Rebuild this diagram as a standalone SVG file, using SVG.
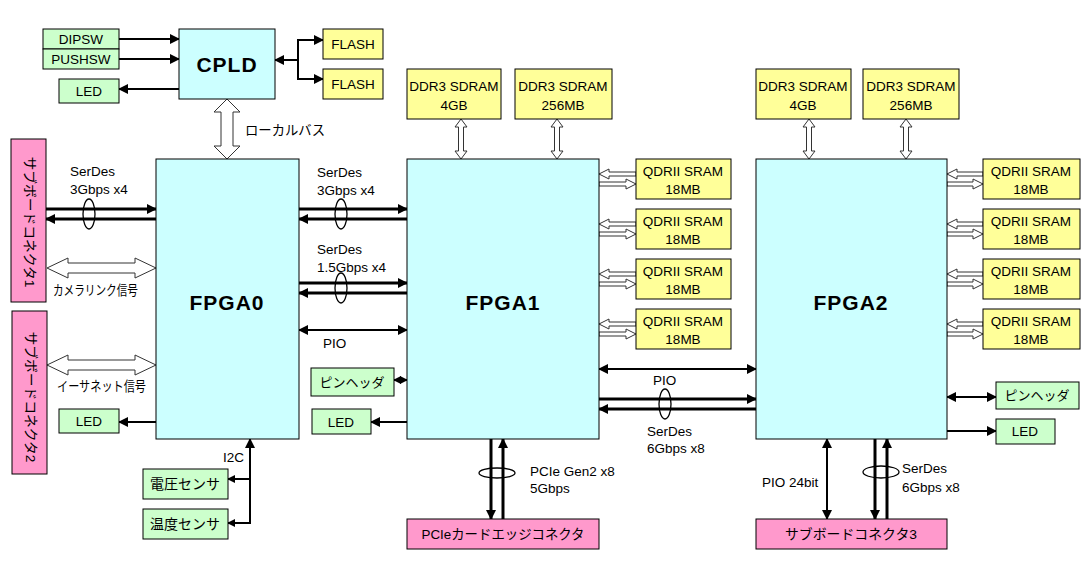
<svg xmlns="http://www.w3.org/2000/svg" width="1092" height="568" viewBox="0 0 1092 568">
<defs>
<marker id="ah" markerUnits="userSpaceOnUse" markerWidth="10" markerHeight="10" refX="9" refY="5" orient="auto-start-reverse"><path d="M0,0 L10,5 L0,10 z" fill="#000"/></marker>
<marker id="ahs" markerUnits="userSpaceOnUse" markerWidth="8" markerHeight="8" refX="7" refY="4" orient="auto-start-reverse"><path d="M0,0 L8,4 L0,8 z" fill="#000"/></marker>
</defs>
<style>
text{font-family:"Liberation Sans","Noto Sans CJK JP",sans-serif;font-size:13.5px;fill:#000}
.c{text-anchor:middle}
.big{font-size:21px;font-weight:bold;letter-spacing:1px}
.jp{font-size:13.5px}
.box{stroke:#000;stroke-width:1}
.fpga{fill:#ccffff}
.grn{fill:#ccffcc}
.yel{fill:#ffff99}
.pnk{fill:#ff99cc}
.t{stroke:#000;stroke-width:3;fill:none}
.n{stroke:#000;stroke-width:2;fill:none}
.hol{fill:#fff;stroke:#333;stroke-width:1}
.ell{fill:none;stroke:#000;stroke-width:1.3}
</style>
<rect width="1092" height="568" fill="#fff"/>

<g id="connectors">
<line class="n" x1="119" y1="39" x2="179" y2="39" marker-end="url(#ah)"/>
<line class="n" x1="119" y1="59" x2="179" y2="59" marker-end="url(#ah)"/>
<line class="n" x1="179" y1="89" x2="119" y2="89" marker-end="url(#ah)"/>
<line class="n" x1="298" y1="60" x2="275" y2="60" marker-end="url(#ah)"/>
<line class="n" x1="298" y1="39" x2="298" y2="80"/>
<line class="n" x1="297" y1="40" x2="323" y2="40" marker-end="url(#ah)"/>
<line class="n" x1="297" y1="79" x2="323" y2="79" marker-end="url(#ah)"/>
<polygon class="hol" points="227,99 240,112 233,112 233,146 240,146 227,159 214,146 221,146 221,112 214,112"/>

<line class="t" x1="46" y1="209" x2="156" y2="209" marker-end="url(#ah)"/>
<line class="t" x1="156" y1="219" x2="46" y2="219" marker-end="url(#ah)"/>
<ellipse class="ell" cx="89" cy="214" rx="6" ry="15"/>
<polygon class="hol" points="47,268 68,258 68,263 135,263 135,258 156,268 135,278 135,273 68,273 68,278"/>
<polygon class="hol" points="47,365 68,355 68,360 135,360 135,355 156,365 135,375 135,370 68,370 68,375"/>
<line class="n" x1="156" y1="422" x2="119" y2="422" marker-end="url(#ah)"/>
<line class="n" x1="250" y1="524" x2="250" y2="439" marker-end="url(#ah)"/>
<line class="n" x1="251" y1="479" x2="228" y2="479" marker-end="url(#ahs)"/>
<line class="n" x1="251" y1="523" x2="228" y2="523" marker-end="url(#ahs)"/>

<line class="t" x1="299" y1="209" x2="407" y2="209" marker-end="url(#ah)"/>
<line class="t" x1="407" y1="219" x2="299" y2="219" marker-end="url(#ah)"/>
<ellipse class="ell" cx="341" cy="214" rx="6" ry="15"/>
<line class="t" x1="299" y1="283" x2="407" y2="283" marker-end="url(#ah)"/>
<line class="t" x1="407" y1="293" x2="299" y2="293" marker-end="url(#ah)"/>
<ellipse class="ell" cx="341" cy="288" rx="6" ry="15"/>
<line class="n" x1="299" y1="330" x2="407" y2="330" marker-start="url(#ah)" marker-end="url(#ah)"/>
<line class="n" x1="394" y1="380" x2="407" y2="380" marker-start="url(#ahs)" marker-end="url(#ahs)"/>
<line class="n" x1="407" y1="422" x2="371" y2="422" marker-end="url(#ah)"/>

<polygon class="hol" points="461,119 467,127 463.5,127 463.5,151 467,151 461,159 455,151 458.5,151 458.5,127 455,127"/>
<polygon class="hol" points="557,119 563,127 559.5,127 559.5,151 563,151 557,159 551,151 554.5,151 554.5,127 551,127"/>
<polygon class="hol" points="809,119 815,127 811.5,127 811.5,151 815,151 809,159 803,151 806.5,151 806.5,127 803,127"/>
<polygon class="hol" points="906,119 912,127 908.5,127 908.5,151 912,151 906,159 900,151 903.5,151 903.5,127 900,127"/>

<g id="qdr-links-1">
<polygon class="hol" points="599,174 609,169 609,172 636,172 636,176 609,176 609,179"/>
<polygon class="hol" points="599,182 626,182 626,179 636,184 626,189 626,186 599,186"/>
<polygon class="hol" points="599,224 609,219 609,222 636,222 636,226 609,226 609,229"/>
<polygon class="hol" points="599,232 626,232 626,229 636,234 626,239 626,236 599,236"/>
<polygon class="hol" points="599,274 609,269 609,272 636,272 636,276 609,276 609,279"/>
<polygon class="hol" points="599,282 626,282 626,279 636,284 626,289 626,286 599,286"/>
<polygon class="hol" points="599,324 609,319 609,322 636,322 636,326 609,326 609,329"/>
<polygon class="hol" points="599,332 626,332 626,329 636,334 626,339 626,336 599,336"/>
</g>
<g id="qdr-links-2">
<polygon class="hol" points="947,174 957,169 957,172 983,172 983,176 957,176 957,179"/>
<polygon class="hol" points="947,182 973,182 973,179 983,184 973,189 973,186 947,186"/>
<polygon class="hol" points="947,224 957,219 957,222 983,222 983,226 957,226 957,229"/>
<polygon class="hol" points="947,232 973,232 973,229 983,234 973,239 973,236 947,236"/>
<polygon class="hol" points="947,274 957,269 957,272 983,272 983,276 957,276 957,279"/>
<polygon class="hol" points="947,282 973,282 973,279 983,284 973,289 973,286 947,286"/>
<polygon class="hol" points="947,324 957,319 957,322 983,322 983,326 957,326 957,329"/>
<polygon class="hol" points="947,332 973,332 973,329 983,334 973,339 973,336 947,336"/>
</g>

<line class="n" x1="599" y1="369" x2="756" y2="369" marker-start="url(#ah)" marker-end="url(#ah)"/>
<line class="t" x1="599" y1="399" x2="756" y2="399" marker-end="url(#ah)"/>
<line class="t" x1="756" y1="409" x2="599" y2="409" marker-end="url(#ah)"/>
<ellipse class="ell" cx="665" cy="404" rx="6" ry="15"/>
<line class="t" x1="491" y1="439" x2="491" y2="519" marker-end="url(#ah)"/>
<line class="t" x1="503" y1="519" x2="503" y2="439" marker-end="url(#ah)"/>
<ellipse class="ell" cx="497" cy="473" rx="18" ry="5"/>

<line class="n" x1="827" y1="439" x2="827" y2="519" marker-start="url(#ah)" marker-end="url(#ah)"/>
<line class="t" x1="875" y1="439" x2="875" y2="519" marker-end="url(#ah)"/>
<line class="t" x1="887" y1="519" x2="887" y2="439" marker-end="url(#ah)"/>
<ellipse class="ell" cx="881" cy="472" rx="18" ry="6"/>
<line class="n" x1="947" y1="397" x2="996" y2="397" marker-start="url(#ah)" marker-end="url(#ah)"/>
<line class="n" x1="947" y1="431" x2="996" y2="431" marker-end="url(#ah)"/>
</g>

<g id="labels">
<text x="245" y="135" textLength="80" lengthAdjust="spacingAndGlyphs">ローカルバス</text>
<text x="70" y="176">SerDes</text>
<text x="70" y="194">3Gbps x4</text>
<text x="53" y="295" textLength="85" lengthAdjust="spacingAndGlyphs">カメラリンク信号</text>
<text x="57" y="391" textLength="89" lengthAdjust="spacingAndGlyphs">イーサネット信号</text>
<text x="223" y="462">I2C</text>
<text x="317" y="177">SerDes</text>
<text x="317" y="195">3Gbps x4</text>
<text x="317" y="254">SerDes</text>
<text x="317" y="272">1.5Gbps x4</text>
<text x="323" y="348">PIO</text>
<text x="653" y="385">PIO</text>
<text x="647" y="436">SerDes</text>
<text x="647" y="453">6Gbps x8</text>
<text x="530" y="476">PCIe Gen2 x8</text>
<text x="530" y="493">5Gbps</text>
<text x="762" y="487">PIO 24bit</text>
<text x="902" y="473">SerDes</text>
<text x="902" y="492">6Gbps x8</text>
</g>

<g id="dipsw"><rect class="box grn" x="43" y="29" width="76" height="20"/><text class="c" x="81" y="44">DIPSW</text></g>
<g id="pushsw"><rect class="box grn" x="43" y="49" width="76" height="20"/><text class="c" x="81" y="64">PUSHSW</text></g>
<g id="led-cpld"><rect class="box grn" x="59" y="79" width="60" height="24"/><text class="c" x="89" y="96">LED</text></g>
<g id="cpld"><rect class="box fpga" x="179" y="29" width="96" height="70"/><text class="c big" x="227" y="72">CPLD</text></g>
<g id="flash1"><rect class="box yel" x="323" y="29" width="60" height="30"/><text class="c" x="353" y="49">FLASH</text></g>
<g id="flash2"><rect class="box yel" x="323" y="69" width="60" height="30"/><text class="c" x="353" y="89">FLASH</text></g>

<g id="subboard1"><rect class="box pnk" x="11" y="139" width="35" height="163"/><text class="c jp" transform="translate(29,222) rotate(90)" dominant-baseline="central" textLength="131" lengthAdjust="spacingAndGlyphs">サブボードコネクタ1</text></g>
<g id="subboard2"><rect class="box pnk" x="12" y="311" width="35" height="163"/><text class="c jp" transform="translate(30,397) rotate(90)" dominant-baseline="central" textLength="131" lengthAdjust="spacingAndGlyphs">サブボードコネクタ2</text></g>

<g id="fpga0"><rect class="box fpga" x="156" y="159" width="143" height="280"/><text class="c big" x="227" y="310">FPGA0</text></g>
<g id="led-fpga0"><rect class="box grn" x="59" y="409" width="60" height="24"/><text class="c" x="89" y="426">LED</text></g>
<g id="volt"><rect class="box grn" x="143" y="469" width="85" height="30"/><text class="c" x="185" y="489" style="font-size:14px">電圧センサ</text></g>
<g id="temp"><rect class="box grn" x="143" y="509" width="85" height="30"/><text class="c" x="185" y="529" style="font-size:14px">温度センサ</text></g>

<g id="fpga1"><rect class="box fpga" x="407" y="159" width="192" height="280"/><text class="c big" x="503" y="310">FPGA1</text></g>
<g id="pinheader1"><rect class="box grn" x="311" y="368" width="83" height="28"/><text class="c" x="352" y="387" style="font-size:13px">ピンヘッダ</text></g>
<g id="led-fpga1"><rect class="box grn" x="312" y="409" width="59" height="25"/><text class="c" x="341" y="427">LED</text></g>
<g id="ddr1a"><rect class="box yel" x="407" y="69" width="94" height="50"/><text class="c" x="454" y="91">DDR3 SDRAM</text><text class="c" x="454" y="110">4GB</text></g>
<g id="ddr1b"><rect class="box yel" x="515" y="69" width="97" height="50"/><text class="c" x="563" y="91">DDR3 SDRAM</text><text class="c" x="563" y="110">256MB</text></g>
<g id="qdr1a"><rect class="box yel" x="636" y="159" width="95" height="40"/><text class="c" x="683" y="176">QDRII SRAM</text><text class="c" x="683" y="194">18MB</text></g>
<g id="qdr1b"><rect class="box yel" x="636" y="209" width="95" height="40"/><text class="c" x="683" y="226">QDRII SRAM</text><text class="c" x="683" y="244">18MB</text></g>
<g id="qdr1c"><rect class="box yel" x="636" y="259" width="95" height="40"/><text class="c" x="683" y="276">QDRII SRAM</text><text class="c" x="683" y="294">18MB</text></g>
<g id="qdr1d"><rect class="box yel" x="636" y="309" width="95" height="40"/><text class="c" x="683" y="326">QDRII SRAM</text><text class="c" x="683" y="344">18MB</text></g>
<g id="pcie"><rect class="box pnk" x="407" y="519" width="192" height="30"/><text class="c" x="503" y="539" textLength="163" lengthAdjust="spacingAndGlyphs">PCIeカードエッジコネクタ</text></g>

<g id="fpga2"><rect class="box fpga" x="756" y="159" width="191" height="280"/><text class="c big" x="851" y="310">FPGA2</text></g>
<g id="ddr2a"><rect class="box yel" x="756" y="69" width="95" height="50"/><text class="c" x="803" y="91">DDR3 SDRAM</text><text class="c" x="803" y="110">4GB</text></g>
<g id="ddr2b"><rect class="box yel" x="863" y="69" width="96" height="50"/><text class="c" x="911" y="91">DDR3 SDRAM</text><text class="c" x="911" y="110">256MB</text></g>
<g id="qdr2a"><rect class="box yel" x="983" y="159" width="97" height="40"/><text class="c" x="1031" y="176">QDRII SRAM</text><text class="c" x="1031" y="194">18MB</text></g>
<g id="qdr2b"><rect class="box yel" x="983" y="209" width="97" height="40"/><text class="c" x="1031" y="226">QDRII SRAM</text><text class="c" x="1031" y="244">18MB</text></g>
<g id="qdr2c"><rect class="box yel" x="983" y="259" width="97" height="40"/><text class="c" x="1031" y="276">QDRII SRAM</text><text class="c" x="1031" y="294">18MB</text></g>
<g id="qdr2d"><rect class="box yel" x="983" y="309" width="97" height="40"/><text class="c" x="1031" y="326">QDRII SRAM</text><text class="c" x="1031" y="344">18MB</text></g>
<g id="pinheader2"><rect class="box grn" x="996" y="382" width="83" height="27"/><text class="c" x="1037" y="400" style="font-size:13px">ピンヘッダ</text></g>
<g id="led-fpga2"><rect class="box grn" x="996" y="419" width="59" height="25"/><text class="c" x="1025" y="436">LED</text></g>
<g id="subboard3"><rect class="box pnk" x="756" y="519" width="191" height="30"/><text class="c" x="851" y="539" textLength="132" lengthAdjust="spacingAndGlyphs">サブボードコネクタ3</text></g>
</svg>
